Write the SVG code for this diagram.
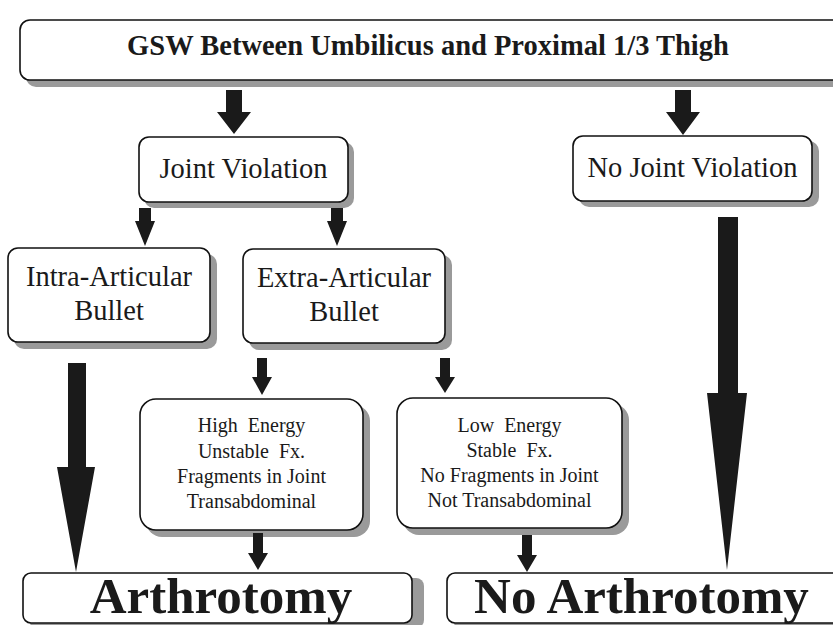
<svg xmlns="http://www.w3.org/2000/svg" width="833" height="625" viewBox="0 0 833 625">
<style>
.box{fill:#fff;stroke:#111;stroke-width:1.6}
.sh{fill:#9a9a9a}
text{font-family:'Liberation Serif','Times New Roman',Tinos,'DejaVu Serif',serif;fill:#1a1a1a;text-anchor:middle;white-space:pre}
.big{font-size:28.5px}
.sm{font-size:20px}
.b{font-weight:bold}
.ar{fill:#1a1a1a}
</style>
<rect width="833" height="625" fill="#fff"/>
<g id="gsw">
<rect class="sh" x="26" y="26" width="830" height="61" rx="10"/>
<rect class="box" x="20" y="20" width="830" height="60" rx="10"/>
<text class="b" x="428" y="55" font-size="28.5">GSW Between Umbilicus and Proximal 1/3 Thigh</text>
</g>
<g id="joint">
<rect class="sh" x="144" y="142" width="210" height="66" rx="10"/>
<rect class="box" x="139" y="137" width="209" height="65" rx="10"/>
<text class="big" x="243.5" y="178">Joint Violation</text>
</g>
<g id="nojoint">
<rect class="sh" x="579" y="141" width="240" height="66" rx="10"/>
<rect class="box" x="573" y="136" width="239" height="65" rx="10"/>
<text class="big" x="692.5" y="177">No Joint Violation</text>
</g>
<g id="intra">
<rect class="sh" x="14" y="254" width="203" height="95" rx="10"/>
<rect class="box" x="8" y="248" width="202" height="94" rx="10"/>
<text class="big" x="109" y="286">Intra-Articular</text>
<text class="big" x="109" y="320">Bullet</text>
</g>
<g id="extra">
<rect class="sh" x="249" y="255" width="203" height="95" rx="10"/>
<rect class="box" x="243" y="249" width="202" height="94" rx="10"/>
<text class="big" x="344" y="287">Extra-Articular</text>
<text class="big" x="344" y="321">Bullet</text>
</g>
<g id="high">
<rect class="sh" x="146" y="405" width="224" height="132" rx="16"/>
<rect class="box" x="140" y="399" width="223" height="131" rx="16"/>
<text class="sm" x="251.5" y="432">High  Energy</text>
<text class="sm" x="251.5" y="458">Unstable  Fx.</text>
<text class="sm" x="251.5" y="483">Fragments in Joint</text>
<text class="sm" x="251.5" y="508">Transabdominal</text>
</g>
<g id="low">
<rect class="sh" x="403" y="404" width="226" height="131" rx="16"/>
<rect class="box" x="397" y="398" width="225" height="130" rx="16"/>
<text class="sm" x="509.5" y="432">Low  Energy</text>
<text class="sm" x="509.5" y="457">Stable  Fx.</text>
<text class="sm" x="509.5" y="482">No Fragments in Joint</text>
<text class="sm" x="509.5" y="507">Not Transabdominal</text>
</g>
<g id="arthrotomy">
<rect class="sh" x="29" y="578" width="395" height="50" rx="8"/>
<rect class="box" x="23" y="573" width="389" height="50" rx="8"/>
<text class="b" x="221" y="613" font-size="51">Arthrotomy</text>
</g>
<g id="noarthrotomy">
<rect class="sh" x="453" y="578" width="395" height="50" rx="8"/>
<rect class="box" x="447" y="573" width="395" height="50" rx="8"/>
<text class="b" x="641.5" y="613" font-size="51">No Arthrotomy</text>
</g>
<g id="connectors">
<polygon class="ar" points="226,90 242,90 242,112 251,112 234,134 217,112 226,112"/>
<polygon class="ar" points="675,90 691,90 691,112 700,112 683,135 666,112 675,112"/>
<polygon class="ar" points="139,208 151,208 151,221 155,221 145,246 135,221 139,221"/>
<polygon class="ar" points="331,208 343,208 343,221 347,221 337,246 327,221 331,221"/>
<polygon class="ar" points="257,358 267,358 267,377 272,377 262,395 252,377 257,377"/>
<polygon class="ar" points="253,533 263,533 263,553 268,553 258,570 248,553 253,553"/>
<polygon class="ar" points="440,358 450,358 450,377 455,377 445,393 435,377 440,377"/>
<polygon class="ar" points="522,535 532,535 532,555 537,555 527,572 517,555 522,555"/>
<polygon class="ar" points="68,363 86,363 86,467 95,467 76,572 57,467 68,467"/>
<polygon class="ar" points="718,217 738,217 738,393 747,393 727,570 707,393 718,393"/>
</g>
</svg>
